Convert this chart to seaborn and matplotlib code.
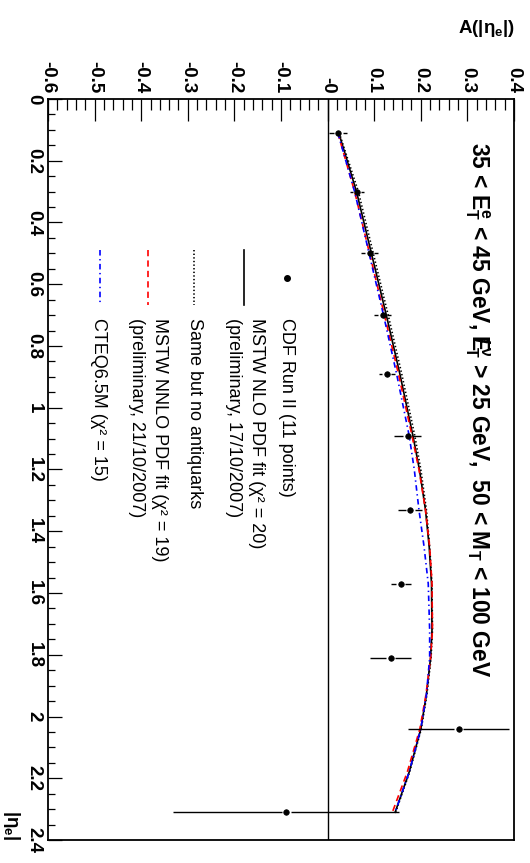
import numpy as np
import pandas as pd
import matplotlib
matplotlib.use("Agg")
import matplotlib.pyplot as plt
import seaborn as sns
from matplotlib.lines import Line2D
from matplotlib.ticker import MultipleLocator

# ---------------- data ----------------
eta_data = [0.11, 0.30, 0.50, 0.70, 0.89, 1.09, 1.33, 1.57, 1.81, 2.04, 2.31]
cdf_A = [0.023, 0.063, 0.090, 0.118, 0.127, 0.172, 0.177, 0.157, 0.135, 0.281, -0.089]
cdf_err = [0.019, 0.016, 0.019, 0.018, 0.017, 0.029, 0.025, 0.022, 0.044, 0.109, 0.243]

eta_curve = [0.11, 0.30, 0.50, 0.70, 0.89, 1.09, 1.20, 1.33, 1.45, 1.57, 1.72, 1.81, 1.93, 2.04, 2.18, 2.31]
mstw_nlo = [0.024, 0.062, 0.094, 0.126, 0.155, 0.183, 0.197, 0.210, 0.218, 0.223, 0.224, 0.221, 0.212, 0.200, 0.175, 0.145]
no_antiq = [0.025, 0.066, 0.098, 0.130, 0.159, 0.187, 0.200, 0.212, 0.219, 0.224, 0.225, 0.222, 0.213, 0.201, 0.176, 0.146]
mstw_nnlo = [0.022, 0.058, 0.090, 0.122, 0.152, 0.181, 0.196, 0.210, 0.219, 0.224, 0.225, 0.221, 0.211, 0.198, 0.171, 0.139]
cteq = [0.022, 0.058, 0.089, 0.120, 0.148, 0.175, 0.186, 0.196, 0.207, 0.216, 0.219, 0.219, 0.212, 0.200, 0.175, 0.145]

a_ticks = [-0.6, -0.5, -0.4, -0.3, -0.2, -0.1, 0.0, 0.1, 0.2, 0.3, 0.4]
a_labels = ["-0.6", "-0.5", "-0.4", "-0.3", "-0.2", "-0.1", "-0", "0.1", "0.2", "0.3", "0.4"]
eta_ticks = [0.0, 0.2, 0.4, 0.6, 0.8, 1.0, 1.2, 1.4, 1.6, 1.8, 2.0, 2.2, 2.4]
eta_labels = ["0", "0.2", "0.4", "0.6", "0.8", "1", "1.2", "1.4", "1.6", "1.8", "2", "2.2", "2.4"]

legend_labels = ["CDF Run II (11 points)",
                 ["MSTW NLO PDF fit (\u03c7\u00b2 = 20)", "(preliminary, 17/10/2007)"],
                 "Same but no antiquarks",
                 ["MSTW NNLO PDF fit (\u03c7\u00b2 = 19)", "(preliminary, 21/10/2007)"],
                 "CTEQ6.5M (\u03c7\u00b2 = 15)"]
title = (r"35 < E$_{T}^{e}$ < 45 GeV, $\mathrm{E}\!\!\!\!/\,{}_{T}^{\nu}$ > 25 GeV,  "
         r"50 < M$_{T}$ < 100 GeV")

# ---------------- style ----------------
plt.rcParams['font.family'] = ['Liberation Sans', 'DejaVu Sans']
plt.rcParams['mathtext.fontset'] = 'custom'
plt.rcParams['mathtext.rm'] = 'Liberation Sans:bold'
plt.rcParams['mathtext.it'] = 'Liberation Sans:bold'
plt.rcParams['mathtext.bf'] = 'Liberation Sans:bold'
plt.rcParams['mathtext.sf'] = 'Liberation Sans:bold'
plt.rcParams['lines.scale_dashes'] = False

W, H = 530, 863
fig = plt.figure(figsize=(W / 100, H / 100), dpi=100)
L, R, T, B = 48, 514, 99, 840
ax = fig.add_axes([L / W, 1 - B / H, (R - L) / W, (B - T) / H])

def fx(px):
    return px / W

def fy(py):
    return 1 - py / H

# curves
styles = [
    (mstw_nlo, 'black', '-'),
    (no_antiq, 'black', (0, (1.0, 1.6))),
    (mstw_nnlo, '#ff0000', (0, (4.5, 3.0))),
    (cteq, '#0000ff', (0, (4.0, 2.5, 1.0, 2.5))),
]
for vals, col, ls in styles:
    df = pd.DataFrame({"A": vals, "eta": eta_curve})
    sns.lineplot(data=df, x="A", y="eta", sort=False, estimator=None,
                 color=col, linestyle=ls, linewidth=1.2, ax=ax)

# zero line
ax.axvline(0.0, color='black', linewidth=1.0, zorder=1)

# data points with error bars (gap around marker)
gap = 0.0095
for a, e, er in zip(cdf_A, eta_data, cdf_err):
    ax.hlines(e, a - er, a - gap, color='black', linewidth=1.0, zorder=4)
    ax.hlines(e, a + gap, a + er, color='black', linewidth=1.0, zorder=4)
dfp = pd.DataFrame({"A": cdf_A, "eta": eta_data})
sns.scatterplot(data=dfp, x="A", y="eta", color='black', s=16, edgecolor='black',
                linewidth=0.5, ax=ax, zorder=5)

# axes
ax.set_xlim(-0.6, 0.4)
ax.set_ylim(2.4, 0.0)
ax.set_xlabel("")
ax.set_ylabel("")
ax.xaxis.set_ticks_position('top')
ax.set_xticks(a_ticks)
ax.set_xticklabels(a_labels, rotation=-90, fontsize=13.5, fontweight='bold', ha='center', va='bottom')
ax.xaxis.set_minor_locator(MultipleLocator(0.02))
ax.set_yticks(eta_ticks)
ax.set_yticklabels(eta_labels, rotation=-90, fontsize=13.5, fontweight='bold', ha='right', va='center')
ax.yaxis.set_minor_locator(MultipleLocator(0.05))
ax.tick_params(axis='x', which='major', direction='in', length=15.8, width=0.9, pad=4, top=True, bottom=False)
ax.tick_params(axis='x', which='minor', direction='in', length=7.9, width=0.9, top=True, bottom=False)
ax.tick_params(axis='y', which='major', direction='in', length=10, width=0.9, pad=4, left=True, right=False)
ax.tick_params(axis='y', which='minor', direction='in', length=5, width=0.9, left=True, right=False)
for s in ax.spines.values():
    s.set_linewidth(1.3)

# axis titles
fig.text(fx(515), fy(33), r"A(|$\eta_{e}$|)", ha='right', va='baseline',
         fontsize=13.5, fontweight='bold')
fig.text(fx(11), fy(840), r"|$\eta_{e}$|", rotation=-90, ha='center', va='bottom',
         fontsize=13.5, fontweight='bold')

# title
fig.text(fx(477), fy(142), title, rotation=-90, ha='center', va='top',
         fontsize=16.4, fontweight='bold')

# legend (drawn manually, rotated)
ty = 318
fig.text(fx(286), fy(ty), legend_labels[0], rotation=-90, ha='center', va='top', fontsize=13)
fig.add_artist(Line2D([fx(287)], [fy(278)], marker='o', color='black', markersize=4, linestyle='none'))

fig.text(fx(256), fy(ty), legend_labels[1][0], rotation=-90, ha='center', va='top', fontsize=13)
fig.text(fx(233), fy(ty), legend_labels[1][1], rotation=-90, ha='center', va='top', fontsize=13)
fig.add_artist(Line2D([fx(244), fx(244)], [fy(250), fy(305)], color='black', linewidth=1.2))

fig.text(fx(194), fy(ty), legend_labels[2], rotation=-90, ha='center', va='top', fontsize=13)
fig.add_artist(Line2D([fx(194), fx(194)], [fy(250), fy(305)], color='black', linewidth=1.2,
                      linestyle=(0, (1.0, 1.6))))

fig.text(fx(159), fy(ty), legend_labels[3][0], rotation=-90, ha='center', va='top', fontsize=13)
fig.text(fx(136), fy(ty), legend_labels[3][1], rotation=-90, ha='center', va='top', fontsize=13)
fig.add_artist(Line2D([fx(148), fx(148)], [fy(250), fy(305)], color='#ff0000', linewidth=1.2,
                      linestyle=(0, (4.5, 3.0))))

fig.text(fx(98), fy(ty), legend_labels[4], rotation=-90, ha='center', va='top', fontsize=13)
fig.add_artist(Line2D([fx(100), fx(100)], [fy(250), fy(305)], color='#0000ff', linewidth=1.2,
                      linestyle=(0, (4.0, 2.5, 1.0, 2.5))))

fig.savefig("out.png", dpi=100)
